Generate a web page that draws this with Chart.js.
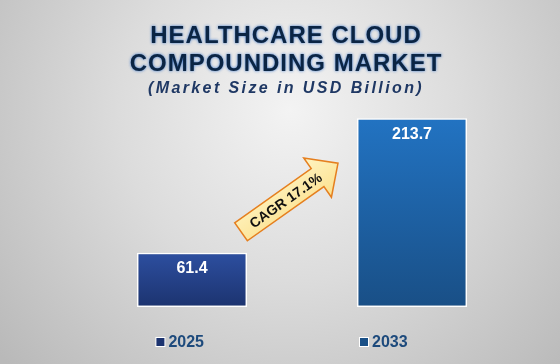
<!DOCTYPE html>
<html>
<head>
<meta charset="utf-8">
<title>Healthcare Cloud Compounding Market</title>
<script src="https://cdn.jsdelivr.net/npm/chart.js@4.4.1/dist/chart.umd.min.js"></script>
<style>
  html, body { margin: 0; padding: 0; background: #d6d6d6; }
  #wrap { width: 560px; height: 364px; }
</style>
</head>
<body>
<div id="wrap"><canvas id="marketChart" width="560" height="364"></canvas></div>
<script>
// chart data
const years = ["2025", "2033"];
const marketSize = [61.4, 213.7];
const cagrText = "CAGR 17.1%";
const titleLines = ["HEALTHCARE CLOUD", "COMPOUNDING MARKET"];
const subtitleText = "(Market Size in USD Billion)";

const FONT = 'Arial, "Liberation Sans", sans-serif';
const barTop = ["#2d4fa0", "#2273c2"];
const barBottom = ["#1c336f", "#194f86"];

// grey radial backdrop
const backdrop = {
  id: "backdrop",
  beforeDraw(chart) {
    const c = chart.ctx;
    const g = c.createRadialGradient(290, 110, 0, 290, 110, 380);
    g.addColorStop(0, "#f3f3f3");
    g.addColorStop(0.45, "#dcdcdc");
    g.addColorStop(1, "#b9b9b9");
    c.save();
    c.fillStyle = g;
    c.fillRect(0, 0, chart.width, chart.height);
    c.restore();
  },
};

// heading with blue glow
const heading = {
  id: "heading",
  afterDraw(chart) {
    const c = chart.ctx;
    const cx = 286;
    c.save();
    c.textAlign = "center";
    c.textBaseline = "alphabetic";
    c.font = "bold 24px " + FONT;
    c.letterSpacing = "1px";
    c.fillStyle = "#0b2544";
    c.shadowColor = "rgba(40,105,200,0.9)";
    c.shadowBlur = 3;
    titleLines.forEach((t, i) => {
      c.fillText(t, cx, 43 + i * 28);
    });
    c.shadowBlur = 0;
    c.shadowColor = "transparent";
    c.font = "italic bold 16px " + FONT;
    c.letterSpacing = "2.4px";
    c.fillStyle = "#1f3864";
    c.fillText(subtitleText, cx, 93);
    c.restore();
  },
};

// value labels inside bar tops
const valueLabels = {
  id: "valueLabels",
  afterDatasetsDraw(chart) {
    const c = chart.ctx;
    const meta = chart.getDatasetMeta(0);
    c.save();
    c.font = "bold 16px " + FONT;
    c.fillStyle = "#ffffff";
    c.textAlign = "center";
    c.textBaseline = "middle";
    meta.data.forEach((bar, i) => {
      c.fillText(marketSize[i].toFixed(1), bar.x, bar.y + 16);
    });
    c.restore();
  },
};

// CAGR arrow between the bars
const cagrArrow = {
  id: "cagrArrow",
  afterDatasetsDraw(chart) {
    const meta = chart.getDatasetMeta(0);
    const b1 = meta.data[0];
    const b2 = meta.data[1];
    const x0 = b1.x + b1.width / 2 - 6;
    const y0 = b1.y - 21;
    const x1 = b2.x - b2.width / 2 - 19;
    const y1 = b2.y + 45;
    const len = Math.hypot(x1 - x0, y1 - y0);
    const ang = Math.atan2(y1 - y0, x1 - x0);
    const sw = 11, hw = 24, hl = 25;
    const c = chart.ctx;
    c.save();
    c.translate(x0, y0);
    c.rotate(ang);
    c.beginPath();
    c.moveTo(0, -sw);
    c.lineTo(len - hl, -sw);
    c.lineTo(len - hl, -hw);
    c.lineTo(len, 0);
    c.lineTo(len - hl, hw);
    c.lineTo(len - hl, sw);
    c.lineTo(0, sw);
    c.closePath();
    const g = c.createLinearGradient(0, -hw, 0, hw);
    g.addColorStop(0, "#fff4c2");
    g.addColorStop(1, "#fbe08e");
    c.fillStyle = g;
    c.fill();
    c.lineWidth = 1.5;
    c.strokeStyle = "#e57f1f";
    c.stroke();
    c.font = "bold 14px " + FONT;
    c.fillStyle = "#111111";
    c.textAlign = "center";
    c.textBaseline = "middle";
    c.fillText(cagrText, len * 0.46, 1);
    c.restore();
  },
};

// legend row at the bottom
const yearLegend = {
  id: "yearLegend",
  afterDraw(chart) {
    const c = chart.ctx;
    c.save();
    c.font = "bold 16px " + FONT;
    c.textBaseline = "middle";
    c.textAlign = "left";
    const box = 8, gap = 4, spacing = 156;
    const widths = years.map((y) => box + gap + c.measureText(y).width);
    const total = widths.reduce((a, b) => a + b, 0) + spacing * (years.length - 1);
    let x = chart.width / 2 + 2 - total / 2;
    const y = 342;
    years.forEach((yr, i) => {
      c.fillStyle = "#ffffff";
      c.fillRect(x - 1, y - box / 2 - 1, box + 2, box + 2);
      c.fillStyle = barBottom[i];
      c.fillRect(x, y - box / 2, box, box);
      c.fillStyle = "#1d4a7c";
      c.fillText(yr, x + box + gap, y + 1);
      x += widths[i] + spacing;
    });
    c.restore();
  },
};

function barGradient(context) {
  const chart = context.chart;
  const i = context.dataIndex;
  if (!chart.chartArea) return barTop[i];
  const y = chart.scales.y;
  const top = y.getPixelForValue(marketSize[i]);
  const base = y.getPixelForValue(0);
  const g = chart.ctx.createLinearGradient(0, top, 0, base);
  g.addColorStop(0, barTop[i]);
  g.addColorStop(1, barBottom[i]);
  return g;
}

const ctx = document.getElementById("marketChart").getContext("2d");
const chart = new Chart(ctx, {
  type: "bar",
  data: {
    labels: years,
    datasets: [
      {
        label: "Market Size",
        data: marketSize,
        backgroundColor: barGradient,
        borderColor: "#ffffff",
        borderWidth: 1.5,
        borderSkipped: false,
        categoryPercentage: 1,
        barPercentage: 0.5,
      },
    ],
  },
  options: {
    responsive: false,
    animation: false,
    layout: {
      padding: { left: 82, right: 38, top: 95, bottom: 57 },
    },
    plugins: {
      legend: { display: false },
      tooltip: { enabled: false },
      title: { display: false },
    },
    scales: {
      x: { display: false },
      y: { display: false, min: 0, max: 240 },
    },
  },
  plugins: [backdrop, heading, cagrArrow, valueLabels, yearLegend],
});
</script>
</body>
</html>
